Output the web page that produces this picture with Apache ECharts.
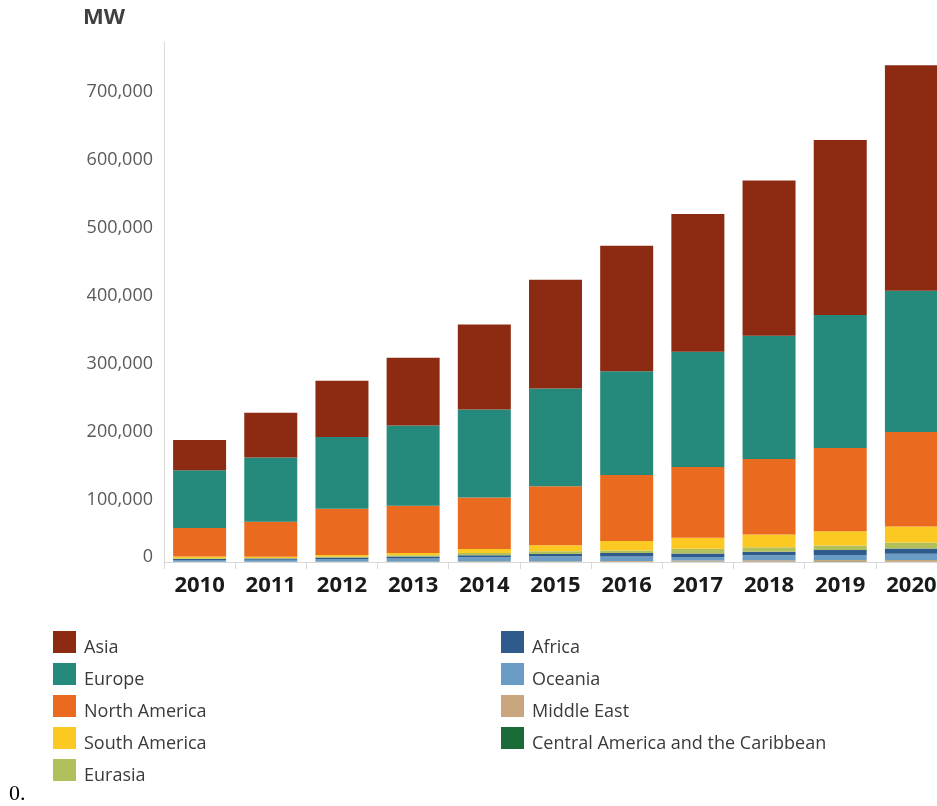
<!DOCTYPE html>
<html>
<head>
<meta charset="utf-8">
<title>MW by region</title>
<script src="https://cdn.jsdelivr.net/npm/echarts@6/dist/echarts.min.js"></script>
<style>
  html, body { margin: 0; padding: 0; background: #fff; }
  #main { width: 937px; height: 806px; }
</style>
</head>
<body>
<div id="main"></div>
<script>
// data (MW)
var years = ['2010', '2011', '2012', '2013', '2014', '2015', '2016', '2017', '2018', '2019', '2020'];
var asia = [44700, 65700, 82800, 99600, 125000, 160300, 184300, 202500, 228400, 257400, 331900];
var europe = [84700, 94600, 105400, 118100, 129400, 143700, 152900, 169600, 181300, 195600, 207800];
var northAmerica = [42200, 51500, 68100, 69600, 75900, 86800, 97100, 104000, 110900, 122600, 138800];
var southAmerica = [2500, 1800, 2500, 3400, 5900, 8800, 13700, 16200, 18700, 21000, 23500];
var eurasia = [1000, 700, 1000, 1900, 3400, 4000, 4000, 6900, 6900, 6300, 8800];
var africa = [1500, 1900, 2500, 2900, 2900, 3400, 4900, 5400, 4900, 7400, 7800];
var oceania = [2500, 2900, 3700, 4400, 5900, 7400, 6900, 4900, 7400, 7400, 9300];
var middleEast = [300, 300, 400, 450, 700, 700, 1000, 1900, 2200, 2400, 2500];
var centralAmerica = [150, 150, 200, 200, 300, 300, 300, 400, 400, 600, 400];

var yTicks = 100000;

var chartDom = document.getElementById('main');
var myChart = echarts.init(chartDom);

// bottom of the stack first
var regions = [
  { name: 'Central America and the Caribbean', data: centralAmerica, color: '#1b6b39' },
  { name: 'Middle East', data: middleEast, color: '#c9a67e' },
  { name: 'Oceania', data: oceania, color: '#6a9cc5' },
  { name: 'Africa', data: africa, color: '#2e5b8b' },
  { name: 'Eurasia', data: eurasia, color: '#b2c05b' },
  { name: 'South America', data: southAmerica, color: '#fcc923' },
  { name: 'North America', data: northAmerica, color: '#ea6b1f' },
  { name: 'Europe', data: europe, color: '#25897b' },
  { name: 'Asia', data: asia, color: '#8d2a12' }
];

var series = regions.map(function (r) {
  return {
    name: r.name,
    type: 'bar',
    stack: 'total',
    barWidth: 53,
    data: r.data,
    itemStyle: { color: r.color },
    emphasis: { disabled: true }
  };
});

// legend text sits a little below the swatch centre
var legendText = {
  fontFamily: 'Open Sans',
  fontSize: 18,
  color: '#3a3a3a',
  rich: {
    t: { fontFamily: 'Open Sans', fontSize: 18, color: '#3a3a3a', padding: [12, 0, 0, 3] }
  }
};
function legendLabel(name) { return '{t|' + name + '}'; }

var option = {
  animation: false,
  color: regions.map(function (r) { return r.color; }),
  title: {
    text: 'MW',
    left: 83,
    top: 7,
    padding: 0,
    textStyle: { fontFamily: 'Open Sans', fontSize: 22, fontWeight: 'bold', color: '#404040' }
  },
  // the chart runs past the right edge, as in the source
  grid: { left: 164, width: 783, top: 42, bottom: 244, outerBoundsMode: 'none' },
  legend: [
    {
      data: ['Asia', 'Europe', 'North America', 'South America', 'Eurasia'],
      orient: 'vertical',
      left: 53,
      top: 631,
      padding: 0,
      itemWidth: 23,
      itemHeight: 22,
      itemGap: 6,
      icon: 'rect',
      formatter: legendLabel,
      textStyle: legendText
    },
    {
      data: ['Africa', 'Oceania', 'Middle East', 'Central America and the Caribbean'],
      orient: 'vertical',
      left: 501,
      top: 631,
      padding: 0,
      itemWidth: 23,
      itemHeight: 22,
      itemGap: 6,
      icon: 'rect',
      formatter: legendLabel,
      textStyle: legendText
    }
  ],
  xAxis: {
    type: 'category',
    data: years,
    axisLine: { lineStyle: { color: '#d9d9d9' } },
    axisTick: { show: true, alignWithLabel: false, length: 7, lineStyle: { color: '#d9d9d9' } },
    axisLabel: { margin: 13, fontFamily: 'Open Sans', fontSize: 22, fontWeight: 'bold', color: '#1a1a1a' }
  },
  yAxis: {
    type: 'value',
    min: 0,
    max: 765000,
    interval: yTicks,
    splitLine: { show: false },
    axisLine: { show: true, lineStyle: { color: '#d9d9d9' } },
    axisTick: { show: false },
    axisLabel: {
      showMaxLabel: false,
      margin: 11,
      padding: [12, 0, 0, 0],
      fontFamily: 'Open Sans',
      fontSize: 18,
      color: '#595959',
      formatter: function (v) {
        if (v === 0) return '{z|0}';
        return v.toLocaleString('en-US');
      },
      rich: {
        z: { fontFamily: 'Open Sans', fontSize: 18, color: '#595959', padding: [0, 0, 22, 0] }
      }
    }
  },
  graphic: [
    {
      type: 'text',
      left: 9,
      top: 783,
      style: { text: '0.', font: '22px "Liberation Serif"', fill: '#000' }
    }
  ],
  series: series
};

option && myChart.setOption(option);
</script>
</body>
</html>
